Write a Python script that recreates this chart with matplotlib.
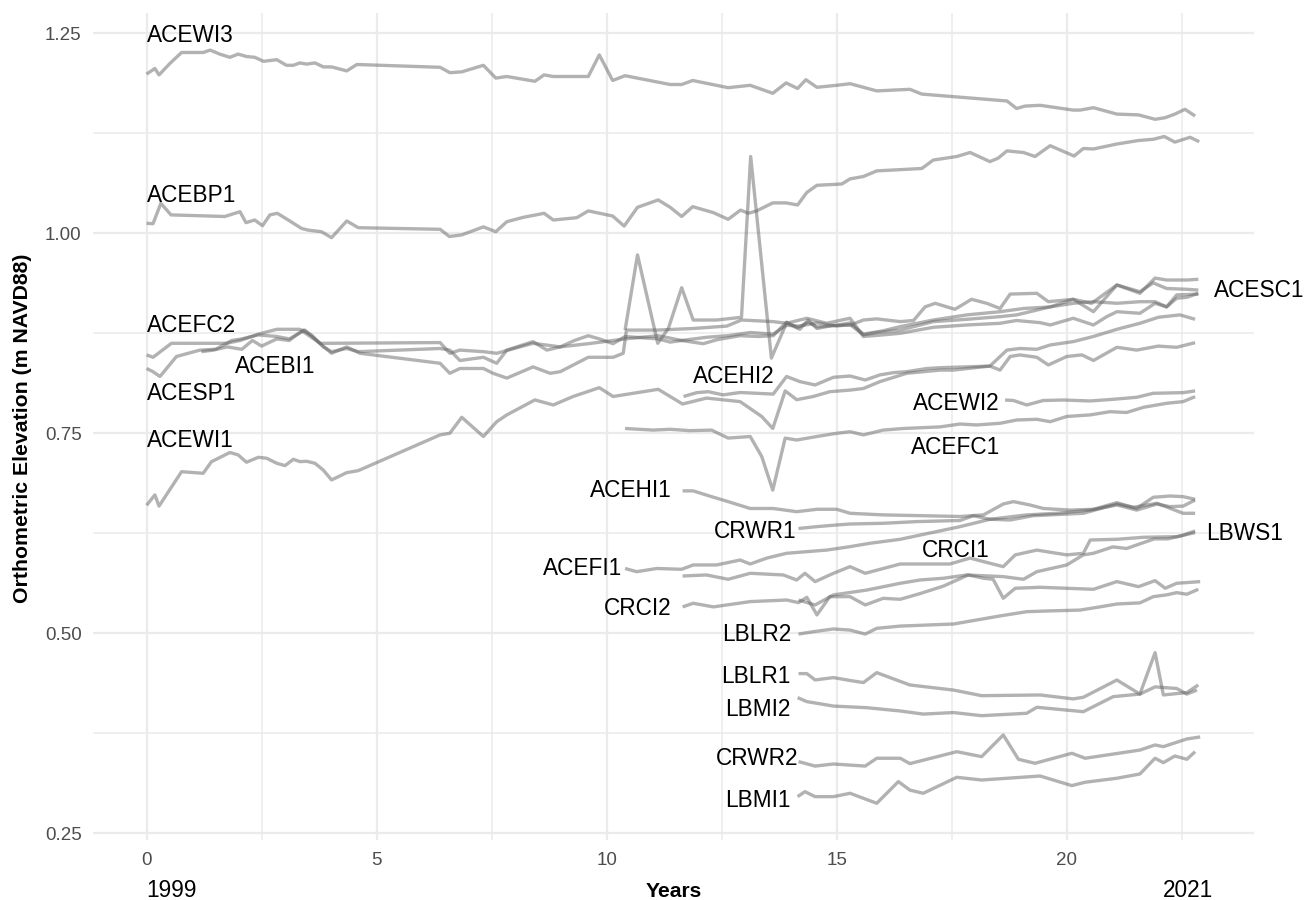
import matplotlib
matplotlib.use('Agg')
import matplotlib.pyplot as plt

plt.rcParams['font.family'] = ['Liberation Sans', 'DejaVu Sans']

# ---------------- data: (years since 1999, orthometric elevation m NAVD88) ----------------
ACEWI3 = [(0.00,1.199),(0.18,1.206),(0.27,1.198),(0.51,1.2125),(0.76,1.226),(1.23,1.226),(1.38,1.229),(1.59,1.224),
          (1.81,1.220),(1.99,1.224),(2.17,1.221),(2.35,1.220),(2.54,1.215),(2.83,1.217),(3.04,1.210),(3.19,1.210),
          (3.33,1.213),(3.48,1.2115),(3.66,1.213),(3.84,1.208),(4.02,1.208),(4.35,1.203),(4.57,1.211),(6.38,1.2075),
          (6.59,1.2008),(6.85,1.2018),(7.32,1.210),(7.59,1.194),(7.83,1.196),(8.44,1.190),(8.64,1.198),(8.84,1.196),
          (9.60,1.196),(9.84,1.223),(10.13,1.191),(10.40,1.197),(11.38,1.186),(11.63,1.186),(11.87,1.191),(12.64,1.182),
          (13.12,1.185),(13.61,1.175),(13.90,1.188),(14.15,1.181),(14.33,1.192),(14.57,1.1825),(15.00,1.185),(15.29,1.187),
          (15.87,1.178),(16.59,1.180),(16.85,1.174),(18.70,1.1654),(18.91,1.156),(19.09,1.159),(19.42,1.160),(20.14,1.154),
          (20.29,1.154),(20.58,1.157),(21.09,1.149),(21.56,1.148),(21.92,1.1425),(22.14,1.1445),(22.35,1.149),(22.57,1.155),
          (22.79,1.1466)]
ACEBP1 = [(0.00,1.0125),(0.14,1.012),(0.31,1.0375),(0.53,1.023),(1.70,1.021),(2.03,1.027),(2.16,1.0133),(2.35,1.0166),
          (2.52,1.0095),(2.68,1.023),(2.84,1.025),(3.04,1.018),(3.37,1.006),(3.51,1.004),(3.80,1.002),(4.02,0.9945),
          (4.35,1.0154),(4.60,1.007),(6.38,1.005),(6.58,0.996),(6.85,0.998),(7.32,1.008),(7.59,1.002),(7.83,1.0145),
          (8.19,1.020),(8.64,1.025),(8.84,1.0166),(9.35,1.0195),(9.60,1.028),(10.13,1.0216),(10.38,1.009),(10.67,1.0325),
          (11.12,1.0417),(11.38,1.0325),(11.63,1.021),(11.87,1.0333),(12.32,1.0258),(12.64,1.0175),(12.91,1.029),(13.08,1.025),
          (13.26,1.028),(13.61,1.038),(13.90,1.038),(14.15,1.0354),(14.35,1.051),(14.57,1.060),(15.11,1.0616),(15.29,1.068),
          (15.58,1.071),(15.87,1.078),(16.85,1.081),(17.10,1.0916),(17.61,1.096),(17.90,1.101),(18.33,1.0896),(18.51,1.094),
          (18.70,1.103),(19.06,1.101),(19.31,1.096),(19.64,1.1095),(20.16,1.0966),(20.36,1.106),(20.58,1.1054),(21.09,1.1116),
          (21.56,1.116),(21.88,1.1175),(22.12,1.121),(22.35,1.114),(22.68,1.120),(22.88,1.1145)]
ACEFC2 = [(0.00,0.848),(0.14,0.845),(0.54,0.8625),(1.74,0.8625),(2.03,0.866),(2.43,0.874),(2.83,0.880),(3.33,0.880),
          (3.77,0.8625),(3.98,0.8625),(6.38,0.8634),(6.59,0.850),(6.81,0.854),(7.32,0.852),(7.61,0.850),(8.40,0.8625),
          (8.99,0.858),(9.60,0.862),(10.14,0.866),(10.40,0.868),(11.12,0.872),(11.63,0.866),(12.17,0.870),(12.64,0.872),
          (13.12,0.876),(13.62,0.874),(13.91,0.885),(14.20,0.884),(14.57,0.888),(15.00,0.884),(15.29,0.886),(15.58,0.873),
          (15.87,0.876),(16.38,0.879),(17.10,0.8896),(17.83,0.8925),(18.55,0.8958),(18.91,0.898),(19.64,0.908),(20.14,0.9125),
          (20.58,0.9145),(21.09,0.9125),(21.59,0.9145),(21.92,0.9145),(22.17,0.908),(22.39,0.923),(22.86,0.924)]
ACEBI1 = [(1.19,0.852),(1.45,0.854),(1.75,0.858),(2.07,0.855),(2.30,0.866),(2.50,0.859),(2.83,0.868),(3.10,0.866),
          (3.40,0.879),(3.60,0.872),(3.84,0.858),(4.02,0.852),(4.35,0.856),(4.60,0.852),(6.38,0.856),(6.59,0.854),
          (6.81,0.841),(7.32,0.845),(7.61,0.8375),(7.83,0.854),(8.40,0.8646),(8.70,0.854),(8.99,0.858),(9.30,0.866),
          (9.60,0.872),(9.84,0.868),(10.14,0.862),(10.40,0.871),(11.12,0.868),(11.38,0.864),(11.63,0.866),(12.10,0.862),
          (12.40,0.867),(12.90,0.872),(13.30,0.871),(13.62,0.872),(13.91,0.889),(14.15,0.882),(14.38,0.889),(14.57,0.883),
          (15.00,0.885),(15.29,0.888),(15.58,0.874),(16.00,0.878),(16.38,0.8833),(17.10,0.8916),(17.83,0.898),(18.55,0.902),
          (19.06,0.906),(19.64,0.908),(20.14,0.9175),(20.54,0.9125),(21.09,0.9354),(21.59,0.927),(21.88,0.938),(22.17,0.931),
          (22.61,0.930),(22.86,0.929)]
ACESP1 = [(0.00,0.831),(0.14,0.827),(0.29,0.821),(0.65,0.846),(1.16,0.854),(1.50,0.855),(1.85,0.866),(2.07,0.868),
          (2.43,0.873),(2.83,0.871),(3.10,0.868),(3.44,0.879),(3.77,0.8625),(4.02,0.850),(4.35,0.858),(4.64,0.850),
          (6.38,0.8375),(6.59,0.825),(6.81,0.831),(7.32,0.831),(7.53,0.825),(7.83,0.819),(8.40,0.833),(8.77,0.825),
          (8.99,0.827),(9.60,0.845),(10.14,0.845),(10.36,0.850),(10.43,0.879),(11.09,0.879),(11.88,0.881),(12.61,0.884),
          (12.93,0.8916),(13.62,0.8896),(13.91,0.8875),(14.35,0.8938),(14.78,0.8875),(15.29,0.8938),(15.58,0.871),(16.00,0.873),
          (16.38,0.875),(17.10,0.8825),(17.83,0.8854),(18.55,0.8875),(18.91,0.891),(19.42,0.8883),(19.64,0.8854),(20.14,0.8938),
          (20.58,0.8854),(20.87,0.8958),(21.09,0.902),(21.59,0.900),(21.92,0.9125),(22.17,0.908),(22.39,0.9188),(22.61,0.920),
          (22.86,0.925)]
ACESC1 = [(10.40,0.879),(10.67,0.973),(11.11,0.8625),(11.34,0.881),(11.63,0.932),(11.88,0.8916),(12.39,0.8916),(12.93,0.895),
          (13.13,1.096),(13.58,0.844),(13.91,0.888),(14.20,0.880),(14.38,0.8916),(14.57,0.881),(14.93,0.885),(15.29,0.885),
          (15.58,0.8916),(15.87,0.893),(16.38,0.8896),(16.67,0.891),(16.92,0.908),(17.14,0.9125),(17.57,0.905),(17.93,0.9175),
          (18.26,0.9125),(18.55,0.906),(18.77,0.924),(19.35,0.925),(19.60,0.9145),(20.14,0.9175),(20.58,0.902),(21.09,0.9354),
          (21.59,0.925),(21.92,0.944),(22.17,0.9416),(22.61,0.9416),(22.86,0.9425)]
ACEWI1 = [(0.00,0.660),(0.18,0.673),(0.27,0.659),(0.76,0.702),(1.23,0.700),(1.41,0.7145),(1.81,0.726),(1.99,0.723),
          (2.17,0.7138),(2.43,0.720),(2.61,0.7188),(2.83,0.7125),(3.01,0.7096),(3.19,0.7175),(3.33,0.7146),(3.48,0.715),
          (3.66,0.7125),(3.84,0.704),(4.02,0.6917),(4.35,0.7008),(4.60,0.7033),(6.38,0.748),(6.59,0.750),(6.85,0.770),
          (7.32,0.746),(7.61,0.7645),(7.83,0.773),(8.44,0.7917),(8.84,0.7854),(9.27,0.796),(9.84,0.807),(10.14,0.796),
          (11.12,0.805),(11.65,0.7866),(12.17,0.794),(12.90,0.7896),(13.37,0.771),(13.61,0.756),(13.88,0.803),(14.13,0.792),
          (14.49,0.796),(14.85,0.802),(15.29,0.804),(15.58,0.806),(15.94,0.8146),(16.52,0.825),(17.25,0.829),(17.53,0.829),
          (18.33,0.834),(18.55,0.829),(18.77,0.846),(18.98,0.848),(19.35,0.845),(19.60,0.8354),(20.00,0.846),(20.33,0.848),
          (20.58,0.841),(21.09,0.8575),(21.52,0.854),(21.99,0.859),(22.39,0.8575),(22.79,0.8633)]
ACEHI2 = [(11.67,0.796),(11.96,0.8008),(12.21,0.802),(12.53,0.798),(12.90,0.801),(13.62,0.799),(13.91,0.821),(14.20,0.8146),
          (14.53,0.8104),(14.93,0.820),(15.29,0.8216),(15.62,0.8166),(15.94,0.823),(16.23,0.8258),(16.52,0.827),(16.96,0.831),
          (17.25,0.832),(18.33,0.834),(18.70,0.854),(18.98,0.856),(19.35,0.855),(19.64,0.8604),(20.14,0.8646),(20.58,0.871),
          (21.09,0.880),(21.59,0.8875),(21.99,0.895),(22.46,0.898),(22.79,0.8925)]
ACEFC1 = [(10.40,0.756),(11.01,0.754),(11.38,0.755),(11.81,0.7533),(12.28,0.754),(12.64,0.744),(13.12,0.746),(13.37,0.721),
          (13.61,0.679),(13.88,0.744),(14.13,0.7416),(14.57,0.746),(15.00,0.750),(15.29,0.752),(15.58,0.748),(16.01,0.754),
          (16.45,0.756),(17.25,0.758),(17.68,0.7616),(18.04,0.7604),(18.55,0.7625),(18.91,0.7666),(19.35,0.7675),(19.64,0.7645),
          (20.00,0.771),(20.51,0.773),(20.94,0.777),(21.30,0.776),(21.67,0.7825),(22.17,0.7875),(22.53,0.7896),(22.79,0.7958)]
ACEWI2 = [(18.66,0.7916),(18.84,0.791),(19.13,0.7854),(19.49,0.791),(19.93,0.7916),(20.51,0.7904),(21.01,0.7925),(21.52,0.795),
          (21.88,0.800),(22.53,0.8008),(22.79,0.803)]
ACEHI1 = [(11.65,0.678),(11.88,0.678),(12.28,0.6708),(12.64,0.6646),(13.12,0.656),(13.62,0.656),(14.13,0.652),(14.57,0.655),
          (15.00,0.655),(15.29,0.650),(16.01,0.648),(17.68,0.646),(18.19,0.648),(18.62,0.6616),(18.84,0.6646),(19.20,0.6604),
          (19.49,0.656),(20.07,0.654),(20.58,0.655),(21.09,0.6633),(21.52,0.656),(21.88,0.670),(22.24,0.6716),(22.53,0.6708),
          (22.79,0.6675)]
CRWR1 = [(14.17,0.631),(14.57,0.6333),(15.00,0.6354),(15.29,0.6366),(16.01,0.6375),(16.74,0.6396),(17.68,0.641),(17.97,0.647),
         (18.33,0.6425),(18.77,0.6416),(19.27,0.647),(19.64,0.648),(20.36,0.650),(21.09,0.6616),(21.45,0.6575),(21.96,0.6625),
         (22.53,0.650),(22.79,0.650)]
ACEFI1 = [(10.40,0.581),(10.65,0.577),(11.09,0.581),(11.63,0.580),(11.88,0.5854),(12.39,0.5854),(12.90,0.5916),(13.12,0.5866),
          (13.48,0.594),(13.91,0.600),(14.78,0.604),(15.29,0.6083),(15.72,0.6125),(16.38,0.6175),(17.68,0.6333),(18.33,0.6425),
          (19.13,0.648),(19.78,0.650),(20.51,0.654),(21.09,0.6604),(21.52,0.654),(21.96,0.6616),(22.24,0.6583),(22.53,0.659),
          (22.79,0.6666)]
CRCI1 = [(11.65,0.5716),(12.17,0.5729),(12.64,0.5675),(13.12,0.575),(13.84,0.5729),(14.13,0.5666),(14.31,0.575),(14.53,0.5646),
         (14.93,0.575),(15.29,0.5833),(15.62,0.575),(16.38,0.5866),(17.46,0.5866),(17.90,0.594),(18.19,0.5896),(18.62,0.5833),
         (18.88,0.598),(19.35,0.604),(20.00,0.598),(20.36,0.600),(20.51,0.6166),(21.09,0.6175),(21.67,0.620),(22.39,0.6208),
         (22.79,0.6258)]
LBWS1 = [(14.17,0.5416),(14.53,0.5354),(14.93,0.548),(15.65,0.554),(16.38,0.5625),(16.81,0.5666),(17.32,0.5688),(17.83,0.5729),
         (18.62,0.5708),(19.06,0.5675),(19.35,0.577),(20.00,0.5854),(20.36,0.598),(20.58,0.600),(21.00,0.608),(21.30,0.606),
         (21.60,0.612),(21.90,0.618),(22.20,0.618),(22.50,0.622),(22.79,0.628)]
CRCI2 = [(11.65,0.533),(11.88,0.5375),(12.32,0.533),(13.12,0.5396),(13.91,0.5416),(14.17,0.5383),(14.35,0.545),(14.57,0.523),
         (14.85,0.5458),(15.29,0.5458),(15.62,0.5354),(16.01,0.5437),(16.38,0.5425),(16.81,0.5496),(17.32,0.559),(17.86,0.5729),
         (18.19,0.5688),(18.40,0.5675),(18.62,0.5438),(18.88,0.5563),(19.42,0.5575),(20.58,0.555),(21.09,0.5646),(21.56,0.5583),
         (21.92,0.5658),(22.14,0.5563),(22.39,0.5625),(22.90,0.5646)]
LBLR2 = [(14.17,0.499),(14.49,0.502),(14.93,0.5054),(15.29,0.504),(15.62,0.499),(15.87,0.5062),(16.38,0.509),(17.54,0.5116),
         (18.04,0.5166),(18.55,0.5217),(19.13,0.527),(19.64,0.528),(20.29,0.529),(20.72,0.533),(21.09,0.5366),(21.59,0.538),
         (21.88,0.5458),(22.17,0.548),(22.39,0.5508),(22.61,0.5488),(22.86,0.555)]
LBLR1 = [(14.17,0.4496),(14.35,0.4496),(14.53,0.4417),(14.93,0.4446),(15.29,0.441),(15.58,0.4384),(15.87,0.4508),(16.59,0.4354),
         (17.54,0.429),(18.15,0.422),(19.42,0.4229),(20.14,0.418),(20.36,0.420),(21.09,0.4416),(21.59,0.424),(21.92,0.4758),
         (22.10,0.4229),(22.61,0.4259),(22.86,0.4354)]
LBMI2 = [(14.15,0.4196),(14.35,0.4146),(14.93,0.409),(15.65,0.407),(16.38,0.4029),(16.88,0.399),(17.54,0.4009),(18.15,0.397),
         (19.13,0.400),(19.35,0.4075),(20.36,0.402),(21.01,0.4208),(21.59,0.424),(21.92,0.433),(22.39,0.431),(22.61,0.424),
         (22.83,0.429)]
CRWR2 = [(14.17,0.3396),(14.53,0.334),(14.93,0.3366),(15.62,0.334),(15.87,0.3438),(16.38,0.3438),(16.59,0.3371),(17.61,0.352),
         (18.15,0.3458),(18.62,0.3729),(18.95,0.3425),(19.31,0.3375),(20.11,0.350),(20.40,0.3438),(21.59,0.354),(21.92,0.3604),
         (22.10,0.3583),(22.61,0.3679),(22.90,0.3704)]
LBMI1 = [(14.15,0.2958),(14.31,0.302),(14.53,0.2958),(14.93,0.2958),(15.29,0.300),(15.87,0.2875),(16.34,0.3146),(16.59,0.304),
         (16.88,0.300),(17.61,0.320),(18.15,0.3166),(19.42,0.3216),(20.11,0.3096),(20.40,0.3138),(21.09,0.3188),(21.59,0.3241),
         (21.92,0.3438),(22.10,0.3383),(22.35,0.3466),(22.61,0.3425),(22.79,0.352)]

series = {
    'ACEWI3': ACEWI3, 'ACEBP1': ACEBP1, 'ACEFC2': ACEFC2, 'ACEBI1': ACEBI1, 'ACESP1': ACESP1,
    'ACESC1': ACESC1, 'ACEWI1': ACEWI1, 'ACEHI2': ACEHI2, 'ACEFC1': ACEFC1, 'ACEWI2': ACEWI2,
    'ACEHI1': ACEHI1, 'CRWR1': CRWR1, 'ACEFI1': ACEFI1, 'CRCI1': CRCI1, 'LBWS1': LBWS1,
    'CRCI2': CRCI2, 'LBLR2': LBLR2, 'LBLR1': LBLR1, 'LBMI2': LBMI2, 'CRWR2': CRWR2, 'LBMI1': LBMI1,
}

x_ticks = [0, 5, 10, 15, 20]
y_ticks = [0.25, 0.50, 0.75, 1.00, 1.25]
y_tick_labels = ['0.25', '0.50', '0.75', '1.00', '1.25']

# label placement (layout): x, baseline y, alignment
label_pos = {
    'ACEWI3': (0.0, 1.2395, 'left'), 'ACEBP1': (0.0, 1.0395, 'left'), 'ACEFC2': (0.0, 0.877, 'left'),
    'ACEBI1': (1.92, 0.825, 'left'), 'ACESP1': (0.0, 0.7916, 'left'), 'ACEWI1': (0.0, 0.7333, 'left'),
    'ACEHI2': (11.88, 0.8125, 'left'), 'ACEWI2': (18.55, 0.7791, 'right'), 'ACEFC1': (18.55, 0.7235, 'right'),
    'ACEHI1': (11.41, 0.6708, 'right'), 'CRWR1': (14.13, 0.6188, 'right'), 'CRCI1': (16.85, 0.5958, 'left'),
    'ACEFI1': (10.33, 0.5729, 'right'), 'CRCI2': (11.41, 0.5229, 'right'), 'LBLR2': (14.02, 0.4908, 'right'),
    'LBLR1': (14.0, 0.4383, 'right'), 'LBMI2': (14.0, 0.3966, 'right'), 'CRWR2': (14.17, 0.3354, 'right'),
    'LBMI1': (14.0, 0.2829, 'right'), 'ACESC1': (23.19, 0.9208, 'left'), 'LBWS1': (23.04, 0.6166, 'left'),
}

W, H = 1306, 900
fig = plt.figure(figsize=(W / 100, H / 100), dpi=100)
left, right, top, bottom = 93, 1254, 13.3, 840
ax = fig.add_axes([left / W, 1 - bottom / H, (right - left) / W, (bottom - top) / H])
ax.set_xlim(-1.165, 24.07)
ax.set_ylim(0.2416, 1.275)

for name, pts in series.items():
    xs = [p[0] for p in pts]
    ys = [p[1] for p in pts]
    ax.plot(xs, ys, color='#666666', alpha=0.5, lw=2.4,
            solid_joinstyle='round', solid_capstyle='butt', zorder=3)

for name, (lx, ly, ha) in label_pos.items():
    ax.text(lx, ly, name, ha=ha, va='baseline', fontsize=16.3, color='black',
            clip_on=False, zorder=5)

ax.text(0.0, 0.1708, '1999', ha='left', va='baseline', fontsize=16.3, color='black', clip_on=False)
ax.text(22.09, 0.1708, '2021', ha='left', va='baseline', fontsize=16.3, color='black', clip_on=False)

ax.set_xticks(x_ticks)
ax.set_xticks([2.5, 7.5, 12.5, 17.5, 22.5], minor=True)
ax.set_yticks(y_ticks)
ax.set_yticklabels(y_tick_labels)
ax.set_yticks([0.375, 0.625, 0.875, 1.125], minor=True)
ax.grid(which='major', color='#ebebeb', lw=1.6, zorder=0)
ax.grid(which='minor', color='#ebebeb', lw=1.1, zorder=0)
ax.set_axisbelow(True)
for s in ax.spines.values():
    s.set_visible(False)
ax.tick_params(which='both', length=0)
ax.tick_params(axis='y', pad=8.1, labelsize=13.5, labelcolor='#4d4d4d')
ax.tick_params(axis='x', pad=8.4, labelsize=13.5, labelcolor='#4d4d4d')

fig.text(674 / W, 1 - 897 / H, 'Years', ha='center', va='baseline', fontsize=15.2, fontweight='bold')
fig.text(22.5 / W, 1 - 428 / H, 'Orthometric Elevation (m NAVD88)', ha='center', va='center',
         rotation=90, fontsize=15.3, fontweight='bold')

fig.savefig('out.png', dpi=100)
